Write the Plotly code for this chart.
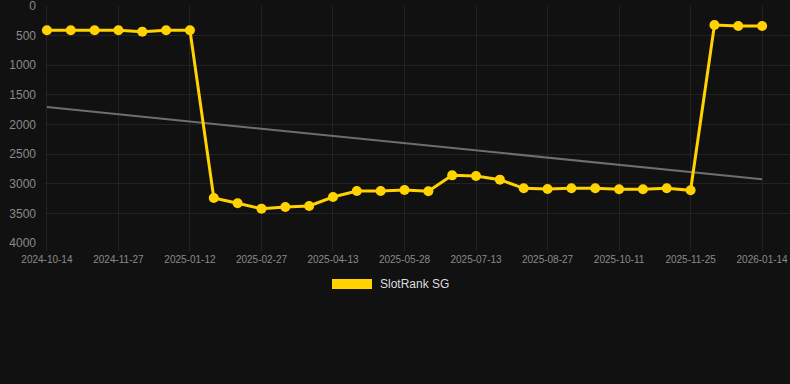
import plotly.graph_objects as go

dates = ["2024-10-14", "2024-10-29", "2024-11-13", "2024-11-27", "2024-12-12", "2024-12-27",
         "2025-01-12", "2025-01-27", "2025-02-11", "2025-02-27", "2025-03-14", "2025-03-29",
         "2025-04-13", "2025-04-28", "2025-05-13", "2025-05-28", "2025-06-12", "2025-06-28",
         "2025-07-13", "2025-07-28", "2025-08-12", "2025-08-27", "2025-09-11", "2025-09-26",
         "2025-10-11", "2025-10-26", "2025-11-10", "2025-11-25", "2025-12-12", "2025-12-29",
         "2026-01-14"]
ranks = [410, 410, 410, 410, 433, 410, 410,
         3240, 3330, 3420, 3392, 3375, 3224, 3122, 3122, 3105, 3128, 2858, 2869, 2931,
         3077, 3089, 3077, 3077, 3094, 3094, 3077, 3111,
         321, 338, 338]
tick_labels = ["2024-10-14", "2024-11-27", "2025-01-12", "2025-02-27", "2025-04-13", "2025-05-28",
               "2025-07-13", "2025-08-27", "2025-10-11", "2025-11-25", "2026-01-14"]
trend_values = [1705, 2925]
y_ticks = [0, 500, 1000, 1500, 2000, 2500, 3000, 3500, 4000]
series_name = "SlotRank SG"

idx = list(range(len(dates)))

fig = go.Figure()
fig.add_trace(go.Scatter(
    x=[0, len(dates) - 1], y=trend_values, mode="lines",
    line=dict(color="#6e6e6e", width=2), hoverinfo="skip", showlegend=False))
fig.add_trace(go.Scatter(
    x=idx, y=ranks, mode="lines+markers", name=series_name,
    line=dict(color="#FFD200", width=3),
    marker=dict(color="#FFD200", size=10),
    cliponaxis=False,
    text=dates, showlegend=False))

tick_idx = [dates.index(t) for t in tick_labels]

fig.update_layout(
    width=790, height=384,
    paper_bgcolor="#111111", plot_bgcolor="#111111",
    margin=dict(l=45, r=0, t=6, b=141),
    font=dict(family="Liberation Sans, Arial, sans-serif", color="#8a8a8a"),
    xaxis=dict(
        range=[-0.08, 31.17], tickmode="array", tickvals=tick_idx, ticktext=tick_labels,
        showgrid=True, gridcolor="#222222", gridwidth=1, zeroline=False,
        tickfont=dict(size=10, color="#8a8a8a"), ticks="outside", ticklen=7,
        tickcolor="#222222", showline=False, ticklabeloverflow="allow"),
    yaxis=dict(
        range=[4000, 0], tickmode="array", tickvals=y_ticks,
        showgrid=True, gridcolor="#222222", gridwidth=1, zeroline=False,
        tickfont=dict(size=12, color="#8a8a8a"), ticks="", ticklabelstandoff=8,
        ticklabeloverflow="allow"),
    shapes=[dict(type="rect", xref="paper", yref="paper",
                 x0=(332 - 45) / 745, x1=(372 - 45) / 745,
                 y0=(384 - 141 - 289) / 237, y1=(384 - 141 - 279) / 237,
                 fillcolor="#FFD200", line=dict(width=0))],
    annotations=[dict(text=series_name, xref="paper", yref="paper",
                      x=(378 - 45) / 745, y=(384 - 141 - 284) / 237,
                      xanchor="left", yanchor="middle", showarrow=False,
                      font=dict(size=12, color="#dddddd"))],
)

fig.write_html(
    "out.html",
    config={"displayModeBar": False},
    post_script="document.body.style.margin='0';document.body.style.background='#111111';",
)
